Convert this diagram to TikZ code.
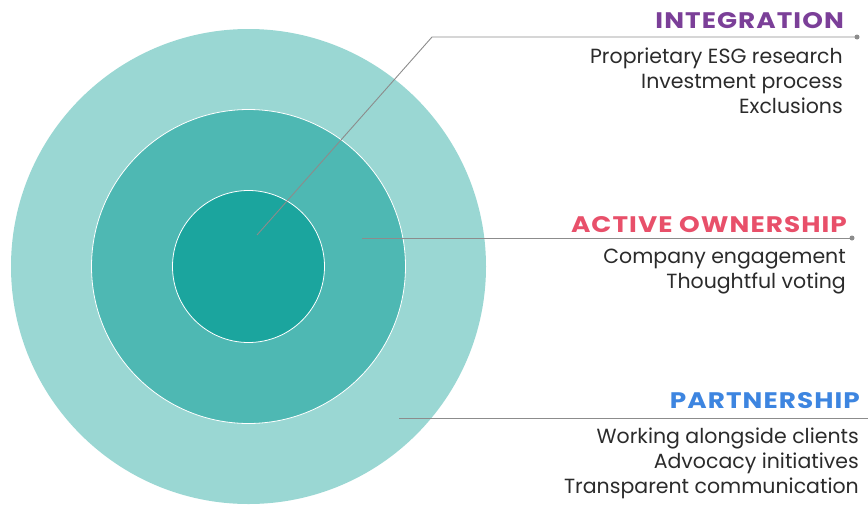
\documentclass[tikz,border=0pt]{standalone}
\usepackage{fontspec}
\setmainfont{Poppins}
\usetikzlibrary{positioning}
\definecolor{ringout}{HTML}{9AD7D3}
\definecolor{ringmid}{HTML}{4EB8B3}
\definecolor{ringin}{HTML}{1BA59E}
\definecolor{integ}{HTML}{7B3F98}
\definecolor{active}{HTML}{E8506A}
\definecolor{partner}{HTML}{3D85E0}
\definecolor{leader}{HTML}{8C8C8C}
\definecolor{bodytext}{HTML}{2B2B2B}
\newcommand{\headtext}[1]{\scalebox{1.17}[1]{#1}}
\begin{document}
\begin{tikzpicture}[x=1pt,y=-1pt]
\tikzstyle{ring}=[circle,inner sep=0pt]
\tikzstyle{heading}=[anchor=base east,inner sep=0pt,font=\fontsize{22.5}{25}\selectfont\bfseries\addfontfeature{LetterSpace=4}]
\tikzstyle{items}=[anchor=north east,inner sep=0pt,align=right,text=bodytext,font=\fontsize{20.5}{24.6}\selectfont]
\tikzstyle{callout}=[draw=leader,line width=0.9pt]
\tikzstyle{tip}=[circle,fill=leader,inner sep=0pt,minimum size=5pt]

\useasboundingbox (0,0) rectangle (868,504);

\node[ring,fill=ringout,minimum size=475pt] (outer) at (248.5,266.5) {};
\node[ring,fill=ringmid,draw=white,line width=0.8pt,minimum size=314pt] (middle) at (248.5,266.5) {};
\node[ring,fill=ringin,draw=white,line width=0.8pt,minimum size=152pt] (inner) at (248.5,266.5) {};

\node[heading,text=integ] (integration) at (844,28) {\headtext{INTEGRATION}};
\node[items] (integitems) at (843,48) {Proprietary ESG research\\Investment process\\Exclusions};
\node[heading,text=active] (ownership) at (847,232) {\headtext{ACTIVE OWNERSHIP}};
\node[items] (owneritems) at (846,249) {Company engagement\\Thoughtful voting};
\node[heading,text=partner] (partnership) at (860,408) {\headtext{PARTNERSHIP}};
\node[items] (partneritems) at (859,428) {Working alongside clients\\Advocacy initiatives\\Transparent communication};

\coordinate (c1) at (257,235);
\coordinate (k1) at (432,37);
\node[tip] (d1) at (857,37) {};
\coordinate (c2) at (362,238);
\node[tip] (d2) at (852,238) {};
\coordinate (c3) at (399,418);
\coordinate (e3) at (868,418);

\draw[callout] (c1) -- (k1) -- (d1.center);
\draw[callout] (c2) -- (d2.center);
\draw[callout] (c3) -- (e3);
\end{tikzpicture}
\end{document}
